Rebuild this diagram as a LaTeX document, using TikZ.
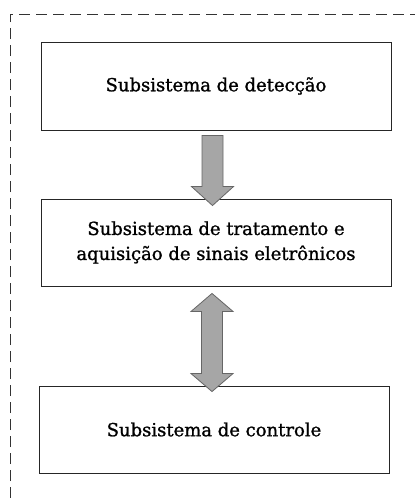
\documentclass[tikz,border=0pt]{standalone}
\usepackage{fontspec}
\setmainfont[AutoFakeBold=1.2]{DejaVu Serif}
\usetikzlibrary{calc}
\begin{document}
\begin{tikzpicture}[x=1pt,y=1pt,
  box/.style={draw=black!85,line width=0.9pt,minimum width=350pt,minimum height=88pt,inner sep=0pt,align=center,font=\fontsize{18}{25}\selectfont\bfseries},
  fatarrow/.style={draw=black!60,fill=black!35,line width=0.8pt,line join=miter}]
\useasboundingbox (0,0) rectangle (415,-498);
\draw[black!80,line width=0.8pt,dash pattern=on 11pt off 6pt] (10,-498) -- (10,-14) -- (415,-14);
\node[box] (b1) at (216,-86) {Subsistema de detecção};
\node[box,minimum height=87pt] (b2) at (216,-242.5) {Subsistema de tratamento e\\aquisição de sinais eletrônicos};
\node[box,minimum height=87pt] (b3) at (214,-429.5) {Subsistema de controle};
% single arrow b1 -> b2
\coordinate (a1s) at ($(b1.south)+(-3.5,-5)$);
\coordinate (a1e) at ($(b2.north)+(-3.5,-7)$);
\draw[fatarrow] ($(a1s)+(-10.5,0)$) -- ($(a1s)+(10.5,0)$) -- ($(a1e)+(10.5,19)$) -- ($(a1e)+(21,19)$) -- (a1e) -- ($(a1e)+(-21,19)$) -- ($(a1e)+(-10.5,19)$) -- cycle;
% double arrow b2 <-> b3
\coordinate (a2t) at ($(b2.south)+(-4,-7)$);
\coordinate (a2b) at ($(b3.north)+(-2,-6)$);
\draw[fatarrow] (a2t) -- ($(a2t)+(21,-18)$) -- ($(a2t)+(10.5,-18)$) -- ($(a2b)+(10.5,18)$) -- ($(a2b)+(21,18)$) -- (a2b) -- ($(a2b)+(-21,18)$) -- ($(a2b)+(-10.5,18)$) -- ($(a2t)+(-10.5,-18)$) -- ($(a2t)+(-21,-18)$) -- cycle;
\end{tikzpicture}
\end{document}
